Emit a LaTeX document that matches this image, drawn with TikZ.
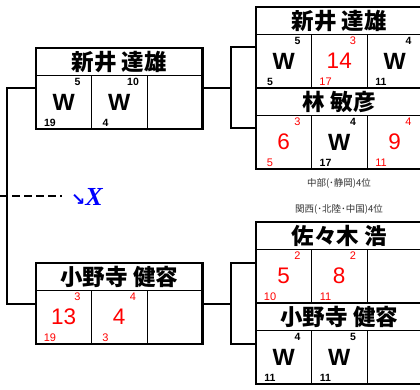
\documentclass[tikz,border=0pt]{standalone}
\usepackage{fontspec}
\setmainfont{Liberation Sans}
\newfontfamily\jpfont{Noto Sans CJK JP}[BoldFont={Noto Sans CJK JP Black}]
\newfontfamily\notefont{Noto Sans CJK JP}
\newfontfamily\arrowfont{DejaVu Sans}
\newfontfamily\xfont{Liberation Serif}
\usetikzlibrary{positioning,fit}
\definecolor{scorered}{RGB}{255,0,0}
\definecolor{markblue}{RGB}{0,0,255}

\begin{document}
\begin{tikzpicture}[x=1pt,y=-1pt,node distance=55.5pt,on grid,
  cell/.style={draw,line width=0.8pt,minimum width=55.5pt,minimum height=53.5pt,inner sep=0pt,outer sep=0pt},
  namecell/.style={draw,line width=0.8pt,minimum width=166.5pt,minimum height=27.5pt,inner sep=0pt,outer sep=0pt,
    font=\jpfont\bfseries\fontsize{22.5}{22.5}\selectfont},
  frame/.style={draw,line width=2.8pt,inner sep=0pt}]
  \useasboundingbox (0,0) rectangle (420,390);

  \tikzset{win/.style={font=\bfseries\fontsize{23.5}{23.5}\selectfont},
           lose/.style={text=scorered,font=\fontsize{22.5}{22.5}\selectfont},
           smallw/.style={inner sep=0pt,font=\bfseries\fontsize{10.5}{10.5}\selectfont},
           smallr/.style={inner sep=0pt,text=scorered,font=\fontsize{11}{11}\selectfont},
           link/.style={line width=2pt},
           note/.style={text=black!80,font=\notefont\fontsize{9.5}{9.5}\selectfont}}

  % left: 新井 達雄
  \node[namecell] (tlname) [anchor=north west] at (36,48) {新井 達雄};
  \node[cell,win]  (tl1) [anchor=north west] at (tlname.south west) {W};
  \node[cell,win]  (tl2) [right=of tl1] {W};
  \node[cell]      (tl3) [right=of tl2] {};
  \node[smallw] (tl1t) at ([shift={(-14,6.5)}]tl1.north east) {5};
  \node[smallw] (tl1b) at ([shift={(14,-6.5)}]tl1.south west) {19};
  \node[smallw] (tl2t) at ([shift={(-14,6.5)}]tl2.north east) {10};
  \node[smallw] (tl2b) at ([shift={(14,-6.5)}]tl2.south west) {4};
  \node[frame,fit=(tlname)(tl3)] (tl) {};

  % left: 小野寺 健容
  \node[namecell] (blname) [anchor=north west] at (36,263) {小野寺 健容};
  \node[cell,lose] (bl1) [anchor=north west] at (blname.south west) {13};
  \node[cell,lose] (bl2) [right=of bl1] {4};
  \node[cell]      (bl3) [right=of bl2] {};
  \node[smallr] (bl1t) at ([shift={(-14,6.5)}]bl1.north east) {3};
  \node[smallr] (bl1b) at ([shift={(14,-6.5)}]bl1.south west) {19};
  \node[smallr] (bl2t) at ([shift={(-14,6.5)}]bl2.north east) {4};
  \node[smallr] (bl2b) at ([shift={(14,-6.5)}]bl2.south west) {3};
  \node[frame,fit=(blname)(bl3)] (bl) {};

  % right top: 新井 達雄 / 林 敏彦
  \node[namecell] (traname) [anchor=north west] at (256,7) {新井 達雄};
  \node[cell,win]  (tra1) [anchor=north west] at (traname.south west) {W};
  \node[cell,lose] (tra2) [right=of tra1] {14};
  \node[cell,win]  (tra3) [right=of tra2] {W};
  \node[smallw] (tra1t) at ([shift={(-14,6.5)}]tra1.north east) {5};
  \node[smallw] (tra1b) at ([shift={(14,-6.5)}]tra1.south west) {5};
  \node[smallr] (tra2t) at ([shift={(-14,6.5)}]tra2.north east) {3};
  \node[smallr] (tra2b) at ([shift={(14,-6.5)}]tra2.south west) {17};
  \node[smallw] (tra3t) at ([shift={(-14,6.5)}]tra3.north east) {4};
  \node[smallw] (tra3b) at ([shift={(14,-6.5)}]tra3.south west) {11};
  \node[frame,fit=(traname)(tra3)] (tra) {};

  \node[namecell] (trbname) [anchor=north west] at (tra1.south west) {林 敏彦};
  \node[cell,lose] (trb1) [anchor=north west] at (trbname.south west) {6};
  \node[cell,win]  (trb2) [right=of trb1] {W};
  \node[cell,lose] (trb3) [right=of trb2] {9};
  \node[smallr] (trb1t) at ([shift={(-14,6.5)}]trb1.north east) {3};
  \node[smallr] (trb1b) at ([shift={(14,-6.5)}]trb1.south west) {5};
  \node[smallw] (trb2t) at ([shift={(-14,6.5)}]trb2.north east) {4};
  \node[smallw] (trb2b) at ([shift={(14,-6.5)}]trb2.south west) {17};
  \node[smallr] (trb3t) at ([shift={(-14,6.5)}]trb3.north east) {4};
  \node[smallr] (trb3b) at ([shift={(14,-6.5)}]trb3.south west) {11};
  \node[frame,fit=(trbname)(trb3)] (trb) {};

  % right bottom: 佐々木 浩 / 小野寺 健容
  \node[namecell] (braname) [anchor=north west] at (256,222) {佐々木 浩};
  \node[cell,lose] (bra1) [anchor=north west] at (braname.south west) {5};
  \node[cell,lose] (bra2) [right=of bra1] {8};
  \node[cell]      (bra3) [right=of bra2] {};
  \node[smallr] (bra1t) at ([shift={(-14,6.5)}]bra1.north east) {2};
  \node[smallr] (bra1b) at ([shift={(14,-6.5)}]bra1.south west) {10};
  \node[smallr] (bra2t) at ([shift={(-14,6.5)}]bra2.north east) {2};
  \node[smallr] (bra2b) at ([shift={(14,-6.5)}]bra2.south west) {11};
  \node[frame,fit=(braname)(bra3)] (bra) {};

  \node[namecell] (brbname) [anchor=north west] at (bra1.south west) {小野寺 健容};
  \node[cell,win]  (brb1) [anchor=north west] at (brbname.south west) {W};
  \node[cell,win]  (brb2) [right=of brb1] {W};
  \node[cell]      (brb3) [right=of brb2] {};
  \node[smallw] (brb1t) at ([shift={(-14,6.5)}]brb1.north east) {4};
  \node[smallw] (brb1b) at ([shift={(14,-6.5)}]brb1.south west) {11};
  \node[smallw] (brb2t) at ([shift={(-14,6.5)}]brb2.north east) {5};
  \node[smallw] (brb2b) at ([shift={(14,-6.5)}]brb2.south west) {11};
  \node[frame,fit=(brbname)(brb3)] (brb) {};

  \node[note] (chubu)  at (339,183) {中部(･静岡)4位};
  \node[note] (kansai) at (339,209) {関西(･北陸･中国)4位};

  % brackets
  \draw[link] (tl.west) -- ++(-28,0) |- (bl.west);
  \draw[link] (tl.east) -- ++(27,0) coordinate (tj) |- (tra.west);
  \draw[link] (tj) |- (trb.west);
  \draw[link] (bl.east) -- ++(27,0) coordinate (bj) |- (bra.west);
  \draw[link] (bj) |- (brb.west);

  \coordinate (d0) at (0,196);
  \coordinate (d1) at (62,196);
  \draw[link,dash pattern=on 8pt off 4pt] (d0) -- (d1);
  \node[text=markblue,inner sep=0pt] (xm) [anchor=base west] at (71,205)
    {{\arrowfont\bfseries\fontsize{17}{17}\selectfont ↘}{\xfont\bfseries\itshape\fontsize{26}{26}\selectfont X}};
\end{tikzpicture}
\end{document}
